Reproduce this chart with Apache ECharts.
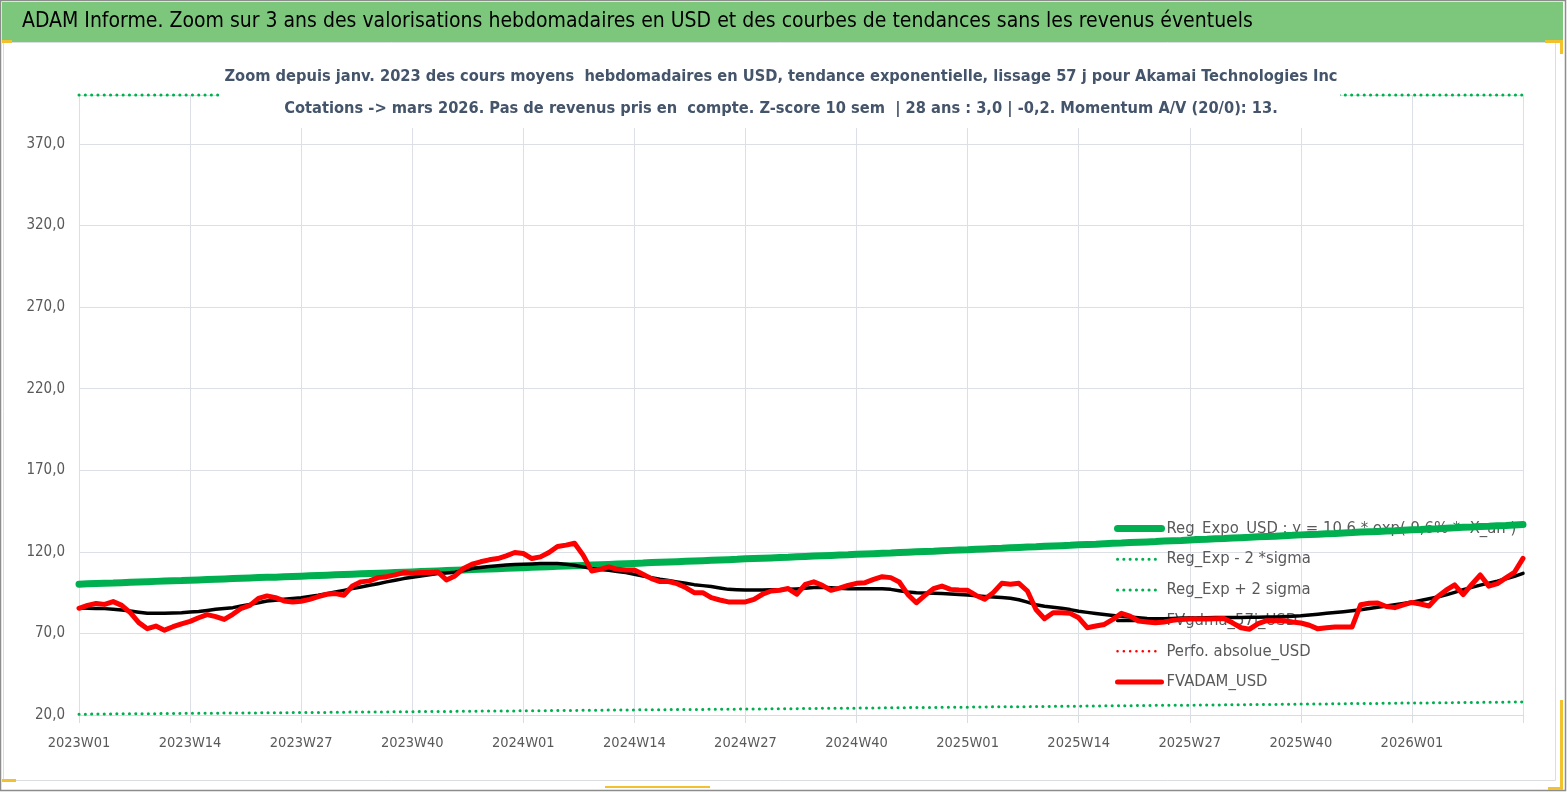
<!DOCTYPE html>
<html>
<head>
<meta charset="utf-8">
<script src="https://cdn.jsdelivr.net/npm/echarts@6/dist/echarts.min.js"></script>
<style>
html,body{margin:0;padding:0;background:#fff;}
#chart{width:1567px;height:792px;}
</style>
</head>
<body>
<div id="chart"></div>
<script>
// ---- Data ----
const weeksPerYear = [[2023, 52], [2024, 52], [2025, 52], [2026, 14]];
const categories = [];
weeksPerYear.forEach(([y, n]) => { for (let w = 1; w <= n; w++) categories.push(y + 'W' + String(w).padStart(2, '0')); });

const seriesNames = [
  'Reg_Expo_USD : y = 10,6 * exp( 9,6% *  X_an )',
  'Reg_Exp - 2 *sigma',
  'Reg_Exp + 2 sigma',
  'FVgdma_57j_USD',
  'Perfo. absolue_USD',
  'FVADAM_USD'
];

const regExpo = [
  100.2,100.4,100.6,100.8,100.9,101.1,101.3,101.5,101.7,101.9,102.1,102.3,102.4,
  102.6,102.8,103.0,103.2,103.4,103.6,103.8,104.0,104.2,104.4,104.5,104.7,104.9,
  105.1,105.3,105.5,105.7,105.9,106.1,106.3,106.5,106.7,106.9,107.1,107.3,107.5,
  107.7,107.9,108.1,108.3,108.5,108.7,108.9,109.1,109.3,109.5,109.7,109.9,110.1,
  110.3,110.5,110.7,110.9,111.1,111.3,111.5,111.7,111.9,112.1,112.3,112.5,112.7,
  112.9,113.1,113.4,113.6,113.8,114.0,114.2,114.4,114.6,114.8,115.0,115.2,115.4,
  115.7,115.9,116.1,116.3,116.5,116.7,117.0,117.2,117.4,117.6,117.8,118.0,118.2,
  118.5,118.7,118.9,119.1,119.3,119.6,119.8,120.0,120.2,120.4,120.7,120.9,121.1,
  121.3,121.6,121.8,122.0,122.2,122.5,122.7,122.9,123.1,123.4,123.6,123.8,124.0,
  124.3,124.5,124.7,125.0,125.2,125.4,125.7,125.9,126.1,126.3,126.6,126.8,127.0,
  127.3,127.5,127.7,128.0,128.2,128.5,128.7,128.9,129.2,129.4,129.6,129.9,130.1,
  130.4,130.6,130.8,131.1,131.3,131.6,131.8,132.1,132.3,132.5,132.8,133.0,133.3,
  133.5,133.7,134.0,134.2,134.5,134.7,135.0,135.2,135.5,135.7,136.0,136.2,136.5,
  136.7
];

const regLow = [
  20.5,20.5,20.6,20.6,20.7,20.7,20.7,20.8,20.8,20.8,20.9,20.9,21.0,
  21.0,21.0,21.1,21.1,21.2,21.2,21.2,21.3,21.3,21.4,21.4,21.4,21.5,
  21.5,21.6,21.6,21.6,21.7,21.7,21.8,21.8,21.8,21.9,21.9,22.0,22.0,
  22.0,22.1,22.1,22.2,22.2,22.2,22.3,22.3,22.4,22.4,22.4,22.5,22.5,
  22.6,22.6,22.6,22.7,22.7,22.8,22.8,22.9,22.9,22.9,23.0,23.0,23.1,
  23.1,23.2,23.2,23.2,23.3,23.3,23.4,23.4,23.4,23.5,23.5,23.6,23.6,
  23.7,23.7,23.7,23.8,23.8,23.9,23.9,24.0,24.0,24.1,24.1,24.1,24.2,
  24.2,24.3,24.3,24.4,24.4,24.5,24.5,24.6,24.6,24.6,24.7,24.7,24.8,
  24.8,24.9,24.9,25.0,25.0,25.1,25.1,25.1,25.2,25.2,25.3,25.3,25.4,
  25.4,25.5,25.5,25.6,25.6,25.7,25.7,25.8,25.8,25.9,25.9,25.9,26.0,
  26.0,26.1,26.1,26.2,26.2,26.3,26.3,26.4,26.4,26.5,26.5,26.6,26.6,
  26.7,26.7,26.8,26.8,26.9,26.9,27.0,27.0,27.1,27.1,27.2,27.2,27.3,
  27.3,27.4,27.4,27.5,27.5,27.6,27.6,27.7,27.7,27.8,27.8,27.9,27.9,
  28.0
];

const regHigh = [
  490,491,492,493,493,494,495,496,497,498,499,500,501,
  502,503,504,504,505,506,507,508,509,510,511,512,513,
  514,515,516,517,518,519,520,520,521,522,523,524,525,
  526,527,528,529,530,531,532,533,534,535,536,537,538,
  539,540,541,542,543,544,545,546,547,548,549,550,551,
  552,553,554,555,556,557,558,559,560,561,562,563,564,
  565,566,568,569,570,571,572,573,574,575,576,577,578,
  579,580,581,582,583,584,586,587,588,589,590,591,592,
  593,594,595,596,598,599,600,601,602,603,604,605,606,
  607,609,610,611,612,613,614,615,617,618,619,620,621,
  622,623,625,626,627,628,629,630,631,633,634,635,636,
  637,638,640,641,642,643,644,646,647,648,649,650,651,
  652,654,655,656,657,658,660,661,662,663,665,666,667,
  668
];

const fvGdma = [
  85.4,85.4,85.3,85.2,84.8,84.3,83.7,83.0,82.3,82.3,82.3,82.5,82.7,
  83.1,83.5,84.1,84.8,85.3,85.8,86.8,87.8,88.8,89.9,90.4,90.9,91.4,
  91.9,92.6,93.4,94.4,95.4,96.4,97.5,98.5,99.5,100.5,101.6,102.6,103.6,
  104.4,105.2,106.0,106.7,107.1,107.5,108.6,109.8,110.4,111.0,111.5,112.0,112.2,
  112.4,112.6,112.8,112.8,112.8,112.4,111.8,110.8,109.8,109.2,108.7,108.0,107.3,
  106.2,105.2,104.2,103.2,102.4,101.6,100.7,99.9,99.3,98.7,97.8,97.0,96.8,
  96.6,96.6,96.6,96.7,96.8,97.0,97.3,97.7,98.2,98.3,98.0,97.7,97.4,
  97.4,97.4,97.4,97.4,97.0,96.2,95.4,95.0,94.8,94.6,94.4,94.2,93.8,
  93.5,93.1,92.7,92.3,92.0,91.6,90.6,89.2,87.6,86.6,86.0,85.4,84.6,
  83.6,82.9,82.2,81.6,81.0,80.5,80.0,79.6,79.2,79.0,79.0,79.2,79.4,
  79.5,79.5,79.6,79.7,79.8,79.8,79.8,79.9,79.9,80.0,80.0,80.2,80.5,
  80.8,81.3,81.8,82.3,82.8,83.3,83.9,84.5,85.3,86.0,86.8,87.6,88.4,
  89.2,90.2,91.2,92.3,93.6,95.2,96.8,98.2,99.6,100.8,102.0,103.5,105.0,
  106.8
];

const perfoAbs = [];

const fvAdam = [
  85.4,87.2,88.4,87.8,89.5,87.2,82.7,76.6,72.9,74.5,72.0,74.1,75.9,
  77.4,79.6,81.5,80.3,78.6,81.7,85.4,87.2,91.5,93.0,91.9,89.9,89.3,
  89.7,90.9,92.5,94.0,94.4,93.4,99.1,101.6,102.2,104.2,104.8,105.9,107.3,
  106.9,107.3,107.3,107.7,102.8,105.2,109.8,112.4,113.9,115.1,115.9,117.5,119.6,
  119.0,115.9,116.9,119.6,123.3,124.1,125.3,118.0,108.3,109.3,110.8,109.3,108.9,
  108.9,106.3,103.6,101.8,101.8,100.5,98.1,95.0,95.0,91.9,90.5,89.3,89.3,
  89.3,90.9,94.0,96.0,96.5,97.5,94.0,100.1,101.6,99.5,96.4,97.8,99.4,
  100.7,101.1,103.1,104.8,104.2,101.5,93.9,88.8,93.3,97.4,99.0,97.0,96.6,
  96.4,93.3,90.9,95.0,100.7,100.1,100.7,96.0,84.7,79.0,82.7,82.7,82.3,
  79.6,73.5,74.5,75.5,78.6,82.3,80.6,77.6,77.0,76.5,77.0,78.0,78.6,
  78.8,78.8,78.8,79.0,79.2,76.5,73.5,72.6,76.0,77.8,77.8,77.8,77.0,
  76.4,75.0,72.8,73.5,73.9,73.9,74.0,87.6,88.5,88.6,86.5,85.8,87.5,
  89.0,88.0,86.8,92.5,96.5,99.8,93.8,100.0,105.8,99.0,100.5,104.0,107.5,
  116.0
];

const headerText = 'ADAM Informe. Zoom sur 3 ans des valorisations hebdomadaires en USD et des courbes de tendances sans les revenus éventuels';
const subtitle1 = 'Zoom depuis janv. 2023 des cours moyens  hebdomadaires en USD, tendance exponentielle, lissage 57 j pour Akamai Technologies Inc';
const subtitle2 = 'Cotations -> mars 2026. Pas de revenus pris en  compte. Z-score 10 sem  | 28 ans : 3,0 | -0,2. Momentum A/V (20/0): 13.';

// ---- Chart ----
const Y_MIN = 20, Y_MAX = 400;
const FONT = "'Liberation Sans Narrow', 'DejaVu Sans Condensed', 'Roboto', sans-serif";
const GREEN = '#00B050';
const RED = '#FF0000';
const dots = [0.1, 6.2];

const chart = echarts.init(document.getElementById('chart'), null, { renderer: 'canvas' });
const every13 = (i) => i % 13 === 0;

const legendWidths = [7, 3, 3, 3.5, 2.5, 5];

chart.setOption({
  animation: false,
  backgroundColor: '#ffffff',
  textStyle: { fontFamily: FONT },
  grid: { left: 79, right: 44, top: 95, bottom: 77, containLabel: false },
  legend: {
    orient: 'vertical',
    left: 1109,
    top: 515,
    z: 1,
    itemWidth: 44,
    itemHeight: 14,
    itemGap: 13.7,
    itemStyle: { opacity: 0 },
    textStyle: { color: '#595959', fontSize: 16.5, fontFamily: FONT },
    data: seriesNames.map((n, k) => ({ name: n, lineStyle: { width: legendWidths[k] } }))
  },
  xAxis: {
    type: 'category',
    data: categories,
    boundaryGap: false,
    axisLine: { show: true, lineStyle: { color: '#D9DCE1', width: 1 } },
    axisTick: { show: true, interval: (i) => every13(i), length: 8, lineStyle: { color: '#D9DCE1' } },
    axisLabel: {
      interval: (i) => every13(i) && i < 169,
      color: '#595959', fontSize: 14.5, margin: 21, fontFamily: FONT
    },
    splitLine: { show: true, interval: (i) => every13(i), lineStyle: { color: '#DCDFE5', width: 1 } }
  },
  yAxis: {
    type: 'value',
    min: Y_MIN, max: Y_MAX, interval: 50,
    axisLine: { show: false },
    axisTick: { show: false },
    axisLabel: {
      showMaxLabel: false,
      color: '#595959', fontSize: 15, margin: 14, fontFamily: FONT,
      formatter: (v) => v.toFixed(1).replace('.', ',')
    },
    splitLine: { show: true, lineStyle: { color: '#DCDFE5', width: 1 } }
  },
  series: [
    { name: seriesNames[0], type: 'line', data: regExpo, z: 3, symbol: 'none', showSymbol: false,
      lineStyle: { color: GREEN, width: 7, cap: 'round' }, itemStyle: { color: GREEN } },
    { name: seriesNames[1], type: 'line', data: regLow, z: 3, symbol: 'none', showSymbol: false,
      lineStyle: { color: GREEN, width: 3, type: dots, cap: 'round' }, itemStyle: { color: GREEN } },
    { name: seriesNames[2], type: 'line', data: regHigh.map(v => Math.min(v, Y_MAX)), z: 3, clip: false, symbol: 'none', showSymbol: false,
      lineStyle: { color: GREEN, width: 3, type: dots, cap: 'round' }, itemStyle: { color: GREEN } },
    { name: seriesNames[3], type: 'line', data: fvGdma, z: 4, symbol: 'none', showSymbol: false,
      lineStyle: { color: '#000000', width: 3.5, cap: 'round', join: 'round' }, itemStyle: { color: '#000000' } },
    { name: seriesNames[4], type: 'line', data: perfoAbs, z: 4, symbol: 'none', showSymbol: false,
      lineStyle: { color: RED, width: 2.5, type: dots, cap: 'round' }, itemStyle: { color: RED } },
    { name: seriesNames[5], type: 'line', data: fvAdam, z: 5, symbol: 'none', showSymbol: false,
      lineStyle: { color: RED, width: 5, cap: 'round', join: 'round' }, itemStyle: { color: RED } }
  ],
  graphic: [
    // outer frame
    { type: 'rect', z: 100, silent: true, shape: { x: 0.5, y: 0.5, width: 1565, height: 790 },
      style: { fill: 'none', stroke: '#8c8c8c', lineWidth: 1.5 } },
    // inner card frame
    { type: 'rect', z: 100, silent: true, shape: { x: 3.5, y: 42.5, width: 1552, height: 738 },
      style: { fill: 'none', stroke: '#DADDE2', lineWidth: 1 } },
    // header bar
    { type: 'rect', z: 100, silent: true, shape: { x: 2, y: 2, width: 1561, height: 40 },
      style: { fill: '#7DC77D' } },
    { type: 'text', z: 101, silent: true, x: 22, y: 22,
      style: { text: headerText, fill: '#000000', font: "21px " + FONT, verticalAlign: 'middle' } },
    // subtitle box (covers plot top)
    { type: 'rect', z: 100, silent: true, shape: { x: 219, y: 58, width: 1121, height: 70 },
      style: { fill: '#ffffff' } },
    { type: 'text', z: 101, silent: true, x: 781, y: 77,
      style: { text: subtitle1, fill: '#44546A', font: "bold 16.3px " + FONT, align: 'center', verticalAlign: 'middle' } },
    { type: 'text', z: 101, silent: true, x: 781, y: 109,
      style: { text: subtitle2, fill: '#44546A', font: "bold 16.3px " + FONT, align: 'center', verticalAlign: 'middle' } },
    // selection handle marks
    { type: 'rect', z: 102, silent: true, shape: { x: 2, y: 40, width: 10, height: 3 }, style: { fill: '#F2C12E' } },
    { type: 'rect', z: 102, silent: true, shape: { x: 1545, y: 40, width: 18, height: 3 }, style: { fill: '#F2C12E' } },
    { type: 'rect', z: 102, silent: true, shape: { x: 1560, y: 40, width: 3, height: 14 }, style: { fill: '#F2C12E' } },
    { type: 'rect', z: 102, silent: true, shape: { x: 2, y: 779, width: 14, height: 3 }, style: { fill: '#F2C12E' } },
    { type: 'rect', z: 102, silent: true, shape: { x: 605, y: 786, width: 105, height: 2 }, style: { fill: '#F2C12E' } },
    { type: 'rect', z: 102, silent: true, shape: { x: 1560, y: 700, width: 3, height: 90 }, style: { fill: '#F2C12E' } },
    { type: 'rect', z: 102, silent: true, shape: { x: 1548, y: 787, width: 15, height: 3 }, style: { fill: '#F2C12E' } }
  ]
});
</script>
</body>
</html>
